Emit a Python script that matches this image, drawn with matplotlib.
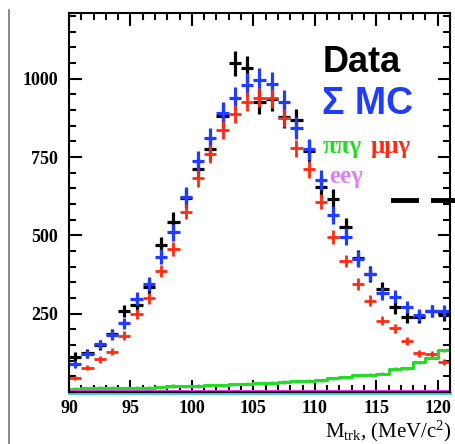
import numpy as np
import matplotlib
matplotlib.use("Agg")
import matplotlib.pyplot as plt
from matplotlib.lines import Line2D
from matplotlib.ticker import MultipleLocator

plt.rcParams['mathtext.fontset'] = 'custom'
plt.rcParams['mathtext.rm'] = 'Liberation Serif'
plt.rcParams['mathtext.it'] = 'Liberation Serif:italic'

# bin centres (MeV/c^2)
mass = np.arange(90.5, 121.0, 1.0)

data = [113, 124, 150, 185, 259, 278, 336, 469, 544, 620, 712, 776, 880, 1049, 1033, 925,
        935, 879, 868, 770, 656, 616, 528, 427, 377, 328, 270, 240, 240, 259, 246]
mc_sum = [89, 121, 152, 182, 219, 297, 345, 432, 510, 624, 738, 810, 890, 938, 980, 996,
          983, 927, 842, 775, 677, 565, 496, 424, 377, 315, 304, 272, 246, 259, 259]
mumug = [44, 78, 104, 129, 180, 249, 299, 386, 457, 576, 682, 760, 837, 887, 927, 940,
         938, 875, 778, 711, 608, 494, 418, 344, 292, 228, 203, 164, 124, 120, 97]
pipig = [10, 12, 13, 13, 12, 14, 14, 15, 19, 18, 19, 21, 22, 24, 26, 28,
         30, 32, 34, 36, 38, 44, 47, 53, 55, 58, 74, 76, 95, 110, 133]
eeg = [3] * 31

fig = plt.figure(figsize=(4.55, 4.44), dpi=100)
ax = fig.add_axes([69/455, 52/444, 381/455, 379/444])

ax.set_xlim(90, 121)
ax.set_ylim(0, 1210)

def cross(y, color, lw, scale):
    y = np.asarray(y, float)
    ax.errorbar(mass, y, xerr=0.5, yerr=scale*np.sqrt(y), fmt='none',
                ecolor=color, elinewidth=lw, capsize=0)

cross(data, 'black', 2.3, 1.25)
cross(mc_sum, '#1f3cff', 2.3, 1.2)
cross(mumug, '#ff2a10', 2.0, 1.0)

# pi pi gamma as small crosses joined
ax.step(np.append(mass - 0.5, 121), np.append(pipig, pipig[-1]), where='post',
        color='#22dd22', lw=2.2)
ax.errorbar(mass, pipig, yerr=5, fmt='none', ecolor='#22dd22',
            elinewidth=2.0, capsize=0)
ax.plot(np.append(mass - 0.5, 121), np.append(eeg, eeg[-1]), color='#ff30ff', lw=2.2)
ax.axhline(-4, color='#40c8e8', lw=2.0, clip_on=False, zorder=0)

ax.xaxis.set_major_locator(MultipleLocator(5))
ax.xaxis.set_minor_locator(MultipleLocator(1))
ax.set_yticks([250, 500, 750, 1000])
ax.yaxis.set_minor_locator(MultipleLocator(50))
ax.tick_params(which='both', direction='in', top=True, right=True, width=1.5)
ax.tick_params(which='major', length=9, pad=8)
ax.tick_params(axis='x', which='major', pad=6)
ax.tick_params(which='minor', length=5)
for lab in ax.get_xticklabels() + ax.get_yticklabels():
    lab.set_fontfamily('Liberation Serif')
    lab.set_fontsize(13)
    lab.set_fontweight('bold')
for s in ax.spines.values():
    s.set_linewidth(1.5)

# legend-like texts
fig.text(323/455, 1 - 72/444, 'Data', fontsize=26, fontweight='bold',
         family='Liberation Sans', color='black')
fig.text(322/455, 1 - 114/444, 'Σ MC', fontsize=27, fontweight='bold',
         family='Liberation Sans', color='#1f3cff')
fig.text(323/455, 1 - 153/444, 'ππγ', fontsize=18, family='Liberation Serif',
         fontweight='bold', color='#22dd22')
fig.text(371/455, 1 - 153/444, 'μμγ', fontsize=18, family='Liberation Serif',
         fontweight='bold', color='#ff2a10')
fig.text(329/455, 1 - 183/444, 'eeγ', fontsize=18, family='Liberation Serif',
         fontweight='bold', color='#e080f0')

fig.add_artist(Line2D([393/455, 416/455], [1 - 200/444] * 2, color='black', lw=3.5))
fig.add_artist(Line2D([433/455, 455/455], [1 - 200/444] * 2, color='black', lw=3.5))
fig.add_artist(Line2D([8.5/455, 8.5/455], [0, 1 - 10/444], color='#808080', lw=1.3))

fig.text(452/455, 1 - 437/444, r'M$_{\mathrm{trk}}$, (MeV/c$^{\mathrm{2}}$)',
         fontsize=15, family='Liberation Serif', ha='right', va='baseline')

fig.savefig('out.png', dpi=100)
